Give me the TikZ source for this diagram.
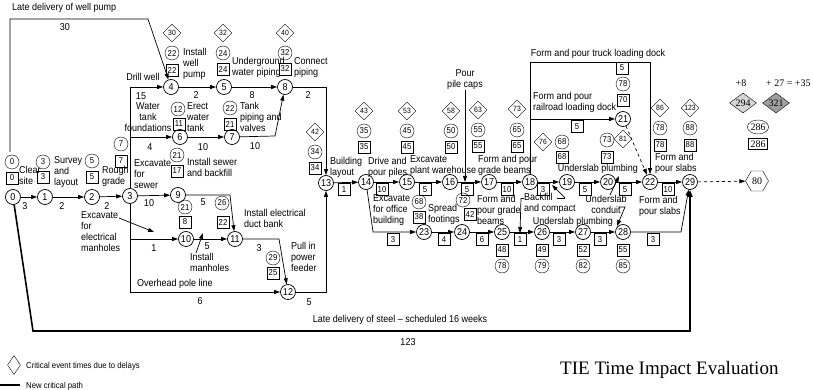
\documentclass[tikz,border=0pt]{standalone}
\usepackage{fontspec}
\setmainfont{Liberation Serif}
\setsansfont{Liberation Sans}[FakeStretch=0.9]
\usetikzlibrary{shapes.geometric, arrows.meta}
\definecolor{delay-light}{HTML}{D6D6D6}
\definecolor{delay-dark}{HTML}{9E9E9E}

\begin{document}
\begin{tikzpicture}[x=1pt, y=-1pt,
    every node/.style={font=\sffamily\fontsize{10}{11}\selectfont, inner sep=0pt},
    event/.style={draw, circle, minimum size=15pt, line width=0.7pt},
    etime/.style={draw, circle, minimum size=14pt, font=\sffamily\fontsize{8.6}{9}\selectfont},
    ltime/.style={draw, minimum width=12pt, minimum height=12pt, inner sep=1pt, font=\sffamily\fontsize{8.6}{9}\selectfont},
    dur/.style={ltime, fill=white, anchor=north},
    delay/.style={draw, diamond, minimum size=18pt, font=\sffamily\fontsize{7.6}{8}\selectfont},
    serifnum/.style={font=\rmfamily\fontsize{10}{12}\selectfont},
    lbl/.style={align=left, anchor=north west},
    arr/.style={-{Triangle[length=6pt,width=4pt]}, line width=0.7pt},
    crit/.style={-{Triangle[length=7pt,width=5pt]}, line width=1.6pt}]
    \useasboundingbox (0,0) rectangle (813,390);

    \node[event] (n0) at (13,197) {0};
    \node[event] (n1) at (45,197) {1};
    \node[event] (n2) at (92,197) {2};
    \node[event] (n3) at (130,196) {3};
    \node[event] (n4) at (171,87) {4};
    \node[event] (n5) at (224,87) {5};
    \node[event] (n6) at (180,137) {6};
    \node[event] (n7) at (232,137) {7};
    \node[event] (n8) at (285,87) {8};
    \node[event] (n9) at (178,195) {9};
    \node[event] (n10) at (186,239) {10};
    \node[event] (n11) at (235,239) {11};
    \node[event] (n12) at (288,292) {12};
    \node[event] (n13) at (326,183) {13};
    \node[event] (n14) at (366,182) {14};
    \node[event] (n15) at (407,182) {15};
    \node[event] (n16) at (450,182) {16};
    \node[event] (n17) at (489,182) {17};
    \node[event] (n18) at (530,182) {18};
    \node[event] (n19) at (567,182) {19};
    \node[event] (n20) at (608,182) {20};
    \node[event] (n21) at (623,119) {21};
    \node[event] (n22) at (650,182) {22};
    \node[event] (n29) at (690,182) {29};
    \node[event] (n23) at (424,232) {23};
    \node[event] (n24) at (462,232) {24};
    \node[event] (n25) at (502,232) {25};
    \node[event] (n26) at (542,232) {26};
    \node[event] (n27) at (583,232) {27};
    \node[event] (n28) at (623,232) {28};
    \node[draw, regular polygon, regular polygon sides=6, minimum size=23pt, serifnum] (n80) at (757,181) {80};

    \coordinate (wp) at (10,152);
    \draw[arr] (wp) -- (10,19) -- (148,19) -- (n4);
    \draw[arr] (n0) -- (n1);
    \draw[arr] (n1) -- (n2);
    \draw[arr] (n2) -- (n3);
    \draw[arr] (n3.north) |- (n4);
    \draw[arr] (n3.north) |- (n6);
    \draw[arr] (n3) -- (n9);
    \draw[arr] (n3.south) |- (n10);
    \draw[arr] (n3.south) |- (n12);
    \draw[arr] (n4) -- (n5);
    \draw[arr] (n5) -- (n8);
    \draw[arr] (n6) -- (n7);
    \draw[arr] (n7) -- (275,136) -- (n8);
    \draw[arr] (n8) -| (n13);
    \draw[arr] (n9) -- (230,195) -- (n11);
    \draw[arr] (n10) -- (n11);
    \draw[arr] (n11) -- (279,239) -- (n12);
    \draw[arr] (n12) -| (n13);
    \draw[arr] (n13) -- (n14);
    \draw[arr] (n14) -- (n15);
    \draw[arr] (n15) -- (n16);
    \draw[arr] (n16) -- (n17);
    \draw[arr] (n17) -- (n18);
    \draw[arr] (n18) -- (n19);
    \draw[arr] (n19) -- (n20);
    \draw[arr] (n20) -- (n22);
    \draw[arr] (n22) -- (n29);
    \draw[arr] (n14) -- (373,232) -- (n23);
    \draw[arr] (n23) -- (n24);
    \draw[arr] (n24) -- (n25);
    \draw[arr] (n25) -- (n26);
    \draw[arr] (n26) -- (n27);
    \draw[arr] (n27) -- (n28);
    \draw[arr] (n28) -- (681,232) -- (n29);
    \draw[arr] (n18) -- (530,62) -- (650,62) -- (n22);
    \coordinate (rr) at (530,119);
    \draw[arr] (rr) -- (n21);
    \draw[arr, dashed] (n21) -- (n22);
    \draw[arr, dashed] (n29) -- (n80);
    \draw[crit] (n0) -- (33,331) -- (690,331) -- (n29);

    \node[anchor=west] (wptxt) at (12,8) {Late delivery of well pump};
    \node (wpdur) at (65,27) {30};
    \node[etime] (c0) at (12,162) {0};
    \node[ltime] (b0) at (12,178) {0};
    \node[lbl] (clear) at (19,166) {Clear\\site};
    \node[etime] (c1) at (43,162) {3};
    \node[ltime] (b1) at (43,177) {3};
    \node[lbl] (survey) at (54,156) {Survey\\and\\layout};
    \node[etime] (c2) at (92,161) {5};
    \node[ltime] (b2) at (92,177) {5};
    \node[lbl] (rough) at (102,166) {Rough\\grade};
    \node[etime] (c3) at (121,144) {7};
    \node[ltime] (b3) at (121,161) {7};
    \node (d01) at (25,206) {3};
    \node (d12) at (62,206) {2};
    \node (d23) at (107,206) {2};

    \node (drill) at (143,77) {Drill well};
    \node (d34) at (141,96) {15};
    \node[align=center] (wtank) at (148,117) {Water\\tank\\foundations};
    \node[delay] (x4) at (172,33) {30};
    \node[etime] (c4) at (172,53) {22};
    \node[ltime] (b4) at (172,70) {22};
    \node[lbl] (iwp) at (183,48) {Install\\well\\pump};
    \node (d45) at (196,95) {2};
    \node[delay] (x5) at (223,33) {32};
    \node[etime] (c5) at (223,53) {24};
    \node[ltime] (b5) at (223,69) {24};
    \node[lbl] (ugwp) at (232,57) {Underground\\water piping};
    \node (d58) at (252,95) {8};
    \node[delay] (x8) at (285,33) {40};
    \node[etime] (c8) at (285,53) {32};
    \node[ltime] (b8) at (285,69) {32};
    \node[lbl] (cpip) at (294,57) {Connect\\piping};
    \node (d813) at (308,95) {2};

    \node[etime] (c6) at (178,109) {12};
    \node[ltime] (b6) at (179,124) {11};
    \node[lbl] (erect) at (187,102) {Erect\\water\\tank};
    \node (d36) at (150,147) {4};
    \node[etime] (c7) at (230,108) {22};
    \node[ltime] (b7) at (230,124) {21};
    \node[lbl] (tpv) at (240,102) {Tank\\piping and\\valves};
    \node (d67) at (203,147) {10};
    \node (d78) at (255,146) {10};

    \node[lbl] (exsew) at (134,159) {Excavate\\for\\sewer};
    \node (d39) at (149,203) {10};
    \node[etime] (c9) at (177,155) {21};
    \node[ltime] (b9) at (177,171) {17};
    \node[lbl] (isb) at (187,158) {Install sewer\\and backfill};
    \node[etime] (c10) at (185,207) {21};
    \node[ltime] (b10) at (185,222) {8};
    \node (d911) at (203,202) {5};
    \node[etime] (c11) at (222,203) {26};
    \node[ltime] (b11) at (223,222) {22};
    \node[lbl] (iedb) at (244,209) {Install electrical\\duct bank};
    \node[lbl] (exel) at (81,211) {Excavate\\for\\electrical\\manholes};
    \draw[arr] (119,218) -- (154,232);
    \node (d310) at (154,248) {1};
    \node (d1011) at (207,246) {5};
    \node[lbl] (imh) at (190,253) {Install\\manholes};
    \draw[arr] (196,253) -- (203,233);
    \node (d1112) at (259,248) {3};
    \node[etime] (c12) at (273,258) {29};
    \node[ltime] (b12) at (273,273) {25};
    \node[lbl] (pipf) at (291,242) {Pull in\\power\\feeder};
    \node[anchor=west] (ohpl) at (137,284) {Overhead pole line};
    \node (d312) at (200,301) {6};
    \node (d1213) at (309,302) {5};
    \node (steel) at (400,320) {Late delivery of steel – scheduled 16 weeks};
    \node (steeldur) at (408,342) {123};

    \node[delay] (x13) at (315,132) {42};
    \node[etime] (c13) at (315,152) {34};
    \node[ltime] (b13) at (315,168) {34};
    \node[lbl] (blay) at (330,157) {Building\\layout};
    \node[delay] (x14) at (364,111) {43};
    \node[etime] (c14) at (364,131) {35};
    \node[ltime] (b14) at (364,147) {35};
    \node[lbl] (dpp) at (368,157) {Drive and\\pour piles};
    \node[delay] (x15) at (407,111) {53};
    \node[etime] (c15) at (407,131) {45};
    \node[ltime] (b15) at (407,147) {45};
    \node[lbl] (epw) at (410,155) {Excavate\\plant warehouse};
    \node[delay] (x16) at (451,111) {58};
    \node[etime] (c16) at (451,131) {50};
    \node[ltime] (b16) at (451,147) {50};
    \node[align=center] (ppc) at (465,80) {Pour\\pile caps};
    \draw[arr] (ppc.south) -- (ppc.south |- n16);
    \node[delay] (x17) at (478,110) {63};
    \node[etime] (c17) at (478,130) {55};
    \node[ltime] (b17) at (478,146) {55};
    \node[lbl] (fpgb) at (478,155) {Form and pour\\grade beams};
    \node[delay] (x18) at (517,109) {73};
    \node[etime] (c18) at (517,130) {65};
    \node[ltime] (b18) at (517,146) {65};
    \node (truck) at (598,54) {Form and pour truck loading dock};
    \node[ltime] (wtr) at (622,68) {5};
    \node[etime] (c21) at (623,84) {78};
    \node[ltime] (b21) at (623,100) {70};
    \node[lbl] (rail) at (533,92) {Form and pour\\railroad loading dock};
    \node[dur] (wrr) at (577,120) {5};
    \node[delay] (x19) at (543,142) {76};
    \node[etime] (c19) at (562,142) {68};
    \node[ltime] (b19) at (562,157) {68};
    \node (usp) at (598,169) {Underslab plumbing};
    \node[etime] (c20) at (607,140) {73};
    \node[delay] (x20) at (623,139) {81};
    \node[ltime] (b20) at (607,157) {73};
    \node[delay] (x22) at (660,108) {86};
    \node[etime] (c22) at (660,128) {78};
    \node[ltime] (b22) at (660,145) {78};
    \node[lbl] (fps1) at (655,153) {Form and\\pour slabs};
    \node[delay] (x29) at (690,108) {123};
    \node[etime] (c29) at (690,128) {88};
    \node[ltime] (b29) at (690,145) {88};

    \node[dur] (w13) at (344,183) {1};
    \node[dur] (w14) at (382,183) {10};
    \node[dur] (w15) at (425,183) {5};
    \node[dur] (w16) at (467,183) {5};
    \node[dur] (w17) at (507,183) {10};
    \node[dur] (w18) at (543,183) {3};
    \node[dur] (w19) at (585,183) {5};
    \node[dur] (w20) at (625,183) {5};
    \node[dur] (w22) at (668,183) {10};
    \node[dur] (w14b) at (393,233) {3};
    \node[dur] (w23) at (444,233) {4};
    \node[dur] (w24) at (482,233) {6};
    \node[dur] (w25) at (520,233) {1};
    \node[dur] (w26) at (559,233) {3};
    \node[dur] (w27) at (600,233) {3};
    \node[dur] (w28) at (653,233) {3};

    \node[lbl] (eob) at (373,194) {Excavate\\for office\\building};
    \node[etime] (c23) at (419,202) {68};
    \node[ltime] (b23) at (419,217) {38};
    \node[lbl] (sft) at (428,204) {Spread\\footings};
    \node[etime] (c24) at (463,200) {72};
    \node[ltime] (b24) at (470,214) {42};
    \node[lbl] (fpgb2) at (477,195) {Form and\\pour grade\\beams};
    \node[ltime] (b25) at (502,250) {48};
    \node[etime] (c25) at (502,266) {78};
    \node[ltime] (b26) at (542,250) {49};
    \node[etime] (c26) at (542,266) {79};
    \node[ltime] (b27) at (583,250) {52};
    \node[etime] (c27) at (583,266) {82};
    \node[ltime] (b28) at (623,250) {55};
    \node[etime] (c28) at (623,266) {85};
    \node[lbl] (bfc) at (524,193) {Backfill\\and compact};
    \draw[arr] (521,198) -- (w25.north);
    \draw (521,198) -- (524,198);
    \draw (557,198) -- (565,198);
    \draw[arr] (565,198) -- (552,185);
    \node[align=center] (usc) at (606,204) {Underslab\\conduit};
    \draw[arr] (610,195) -- (619,176);
    \draw[arr] (619,207) -- (625,207) -- (617,226);
    \node (usp2) at (573,222) {Underslab plumbing};
    \node[lbl] (fps2) at (639,196) {Form and\\pour slabs};

    \node[serifnum] (plus8) at (741,83) {+8};
    \node[serifnum, anchor=west] (plus27) at (766,83) {+ 27 = +35};
    \node[draw, diamond, aspect=1.3, fill=delay-light, minimum width=27pt, minimum height=20pt, serifnum] (t294) at (743,103) {294};
    \node[draw, diamond, aspect=1.3, fill=delay-dark, minimum width=27pt, minimum height=20pt, serifnum] (t321) at (776,103) {321};
    \node[draw, ellipse, minimum width=19pt, minimum height=14pt, serifnum] (t286) at (758,127) {286};
    \node[draw, minimum width=19pt, minimum height=11pt, serifnum] (l286) at (758,144) {286};

    \node[draw, diamond, minimum width=13pt, minimum height=19pt] (legd) at (14,365) {};
    \node[anchor=west, font=\sffamily\fontsize{8.6}{9}\selectfont] (legdt) at (26,366) {Critical event times due to delays};
    \coordinate (legl) at (0,385);
    \draw[line width=1.6pt] (legl) -- (20,385);
    \node[anchor=west, font=\sffamily\fontsize{8.6}{9}\selectfont] (legct) at (26,386) {New critical path};
    \node[anchor=west, font=\rmfamily\fontsize{19}{22}\selectfont] (tie) at (560,370) {TIE Time Impact Evaluation};
\end{tikzpicture}
\end{document}
